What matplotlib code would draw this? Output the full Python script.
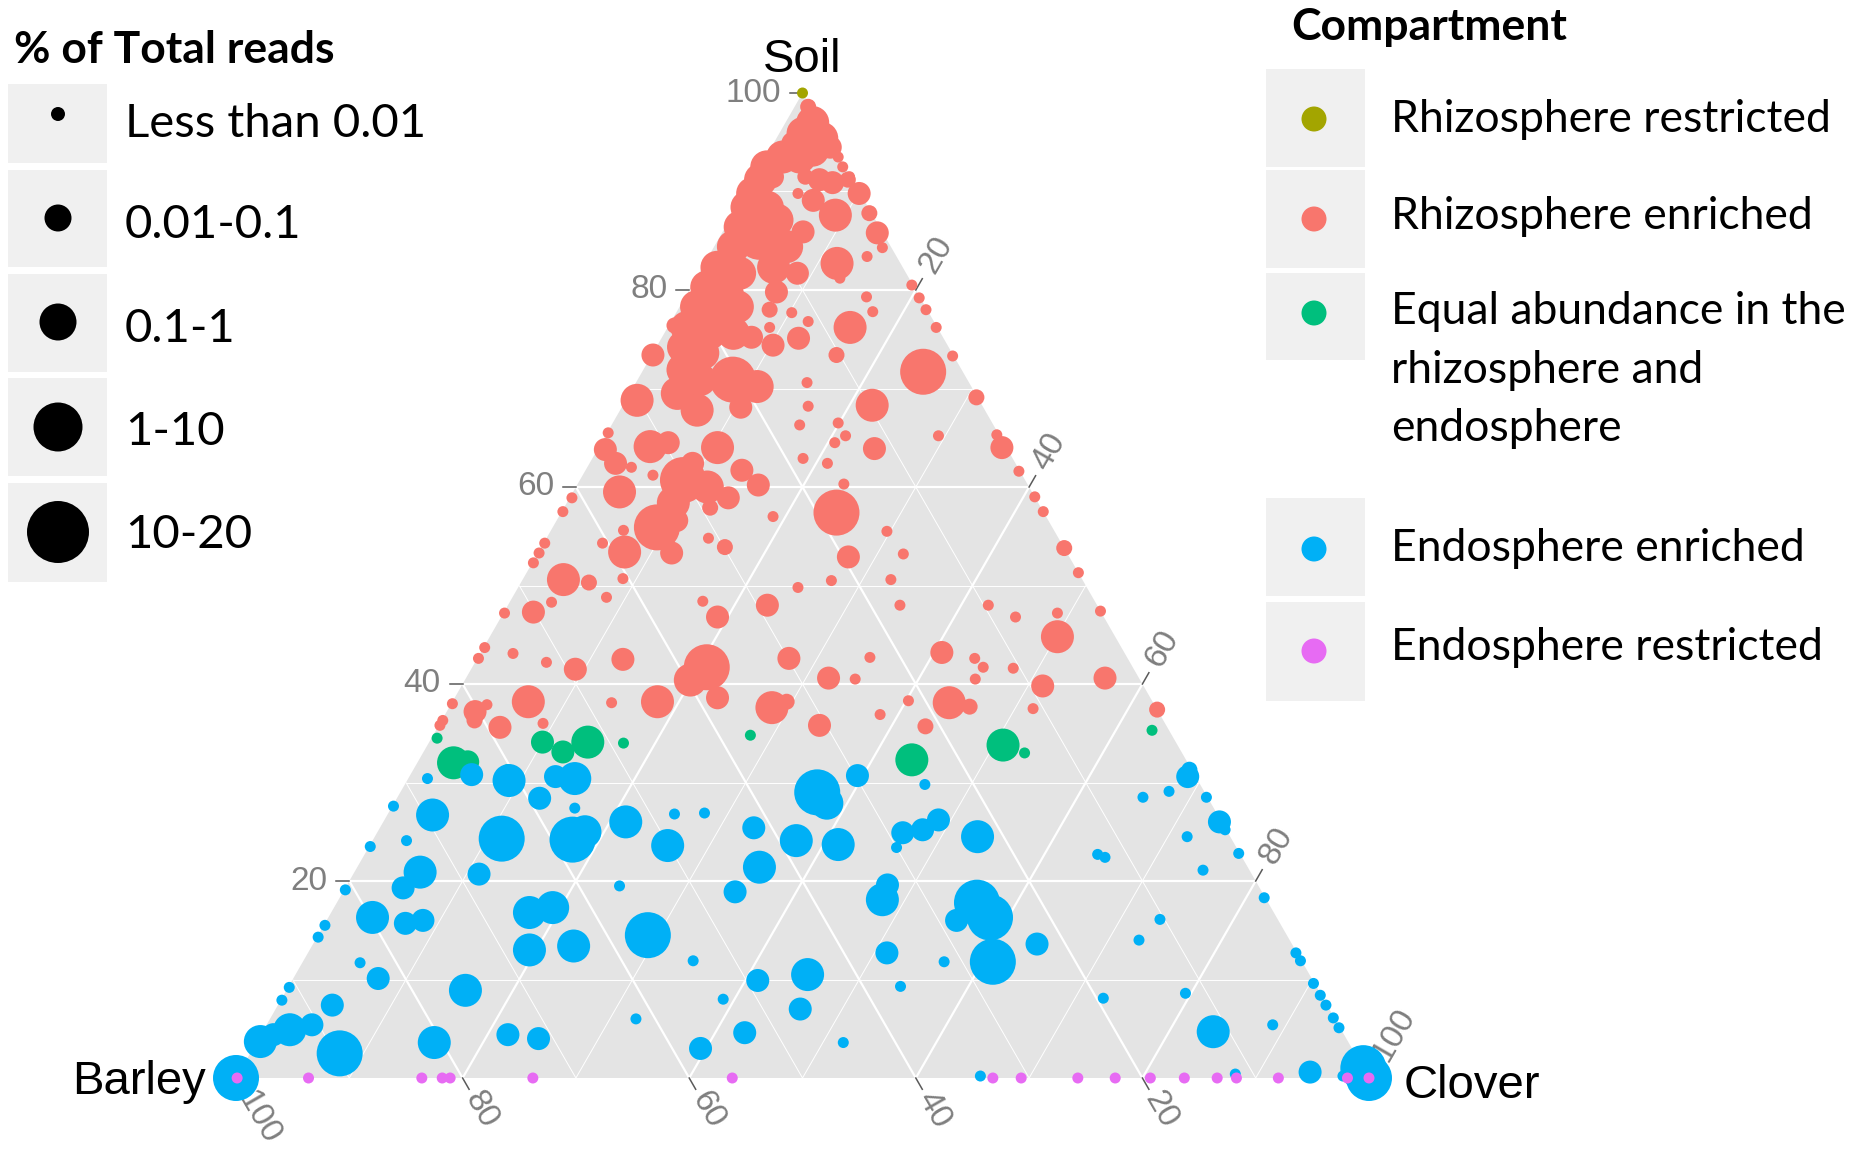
import numpy as np
import matplotlib.pyplot as plt
from matplotlib.patches import Polygon, Rectangle

#-------------------------------------------------------------
# Data (% soil, % barley, % clover) and size class per OTU
#-------------------------------------------------------------
size_labels = ["Less than 0.01", "0.01-0.1", "0.1-1", "1-10", "10-20"]
compartments = [["Rhizosphere restricted"], ["Rhizosphere enriched"],
                ["Equal abundance in the", "rhizosphere and", "endosphere"],
                ["Endosphere enriched"], ["Endosphere restricted"]]
comp_colors = ["#A3A500", "#F8766D", "#00BF7D", "#00B0F6", "#E76BF3"]

# Rhizosphere restricted
rr_soil = [100.0]
rr_barley = [0.0]
rr_clover = [0.0]
rr_size = [1]

# Rhizosphere enriched
re_soil = [98.6, 97.0, 95.9, 95.4, 94.9, 94.2, 94.5, 93.5, 93.5, 92.5, 91.2, 91.5, 89.8, 88.4, 88.4, 87.1,
           86.4, 85.4, 84.4, 84.4, 82.3, 81.7, 82.3, 81.7, 79.8, 80.3, 79.7, 78.3, 77.7, 78.3, 76.2, 75.6,
           75.6, 76.4, 74.2, 73.6, 75.2, 76.2, 73.4, 71.9, 70.9, 70.9, 70.2, 69.5, 68.8, 74.4, 75.1, 77.7,
           76.8, 78.0, 70.6, 73.4, 76.2, 79.3, 77.8, 82.7, 82.2, 81.2, 83.4, 85.9, 87.6, 89.1, 89.8, 91.5,
           91.2, 90.9, 91.2, 89.8, 93.5, 92.5, 91.5, 87.8, 85.8, 84.3, 80.5, 79.2, 78.0, 76.2, 73.3, 69.1,
           71.7, 68.3, 67.8, 68.1, 65.5, 63.8, 62.4, 62.0, 64.1, 64.5, 61.2, 59.5, 58.9, 57.5, 64.0, 61.7,
           60.2, 58.9, 57.0, 66.3, 68.2, 62.9, 60.7, 62.4, 60.0, 58.4, 55.9, 56.6, 53.3, 57.9, 53.4, 55.6,
           54.3, 54.3, 53.3, 52.3, 50.6, 50.3, 48.3, 48.8, 50.7, 54.8, 53.9, 49.8, 47.3, 47.2, 48.4, 46.8,
           48.0, 43.7, 42.6, 43.1, 42.2, 41.5, 42.5, 41.7, 40.4, 38.6, 42.6, 38.2, 38.1, 38.2, 37.2, 37.9,
           38.0, 36.3, 37.6, 38.2, 35.8, 35.6, 36.0, 36.3, 35.8, 35.7, 66.5, 64.5, 65.2, 63.9, 65.2, 64.0,
           65.3, 61.6, 62.4, 60.3, 57.4, 55.5, 59.0, 57.5, 53.8, 51.3, 47.4, 37.4, 52.9, 53.2, 50.5, 50.6,
           48.0, 48.0, 46.8, 47.2, 44.8, 43.2, 42.6, 41.7, 41.6, 40.5, 39.8, 40.6, 37.5, 42.7, 40.6, 40.5,
           38.1, 37.7, 38.3, 36.9]
re_barley = [0.2, 0.6, 2.0, 0.6, 3.4, 2.0, 0.3, 5.0, 3.5, 6.9, 8.1, 6.9, 9.5, 10.7, 8.9, 8.7,
             12.3, 11.1, 9.2, 13.9, 11.4, 9.6, 16.4, 14.7, 12.4, 18.3, 16.8, 20.2, 18.7, 16.6, 22.1, 20.4,
             18.3, 23.1, 23.4, 22.0, 16.9, 14.8, 26.5, 24.6, 23.6, 20.7, 18.9, 26.3, 30.2, 15.4, 12.8, 12.1,
             11.1, 13.9, 14.3, 10.3, 7.7, 4.7, 4.9, 5.6, 6.7, 6.1, 2.6, 7.0, 3.3, 4.5, 5.5, 4.0,
             2.9, 1.9, 0.4, 0.1, 0.1, 0.2, 0.1, 0.2, 0.5, 0.8, 0.1, 0.1, 0.1, 0.1, 0.1, 0.1,
             3.5, 9.7, 25.4, 21.4, 34.4, 35.5, 35.3, 34.1, 31.4, 29.6, 32.6, 36.4, 40.9, 42.4, 25.5, 24.5,
             23.8, 27.1, 24.1, 17.1, 15.4, 18.5, 30.2, 28.5, 28.4, 32.2, 34.9, 32.8, 34.9, 29.2, 39.0, 38.0,
             40.5, 45.6, 46.6, 47.6, 45.8, 43.7, 48.0, 42.9, 40.5, 30.9, 29.9, 25.5, 50.1, 52.7, 34.6, 34.1,
             29.1, 56.2, 57.3, 54.0, 51.5, 49.3, 44.6, 37.6, 39.7, 38.2, 29.9, 43.7, 47.8, 55.1, 60.3, 58.9,
             61.9, 63.6, 33.9, 32.3, 64.1, 58.9, 54.9, 60.8, 30.6, 21.3, 13.6, 14.9, 13.6, 11.7, 5.4, 0.4,
             0.2, 0.1, 16.6, 16.2, 18.3, 14.8, 0.0, 0.0, 0.0, 0.0, 0.0, 0.0, 19.5, 14.5, 22.2, 16.9,
             17.4, 9.6, 7.8, 3.9, 5.1, 16.1, 13.5, 13.2, 10.6, 14.5, 8.9, 3.0, 10.9, 22.7, 27.4, 25.1,
             18.0, 16.4, 21.5, 24.7]
re_clover = [1.2, 2.4, 2.1, 4.0, 1.7, 3.8, 5.2, 1.5, 3.0, 0.6, 0.7, 1.6, 0.7, 0.9, 2.7, 4.2,
             1.3, 3.5, 6.4, 1.7, 6.3, 8.7, 1.3, 3.6, 7.8, 1.4, 3.5, 1.5, 3.6, 5.1, 1.7, 4.0,
             6.1, 0.5, 2.4, 4.4, 7.9, 9.0, 0.1, 3.5, 5.5, 8.4, 10.9, 4.2, 1.0, 10.2, 12.1, 10.2,
             12.1, 8.1, 15.1, 16.3, 16.1, 16.0, 17.3, 11.7, 11.1, 12.7, 14.0, 7.1, 9.1, 6.4, 4.7, 4.5,
             5.9, 7.2, 8.4, 10.1, 6.4, 7.3, 8.4, 12.0, 13.7, 14.9, 19.4, 20.7, 21.9, 23.7, 26.6, 30.8,
             24.8, 22.0, 6.8, 10.5, 0.1, 0.7, 2.3, 3.9, 4.5, 5.9, 6.2, 4.1, 0.2, 0.1, 10.5, 13.8,
             16.0, 14.0, 18.9, 16.6, 16.4, 18.6, 9.1, 9.1, 11.6, 9.4, 9.2, 10.6, 11.8, 12.9, 7.6, 6.4,
             5.2, 0.1, 0.1, 0.1, 3.6, 6.0, 3.7, 8.3, 8.8, 14.3, 16.2, 24.7, 2.6, 0.1, 17.0, 19.1,
             22.9, 0.1, 0.1, 2.9, 6.3, 9.2, 12.9, 20.7, 19.9, 23.2, 27.5, 18.1, 14.1, 6.7, 2.5, 3.2,
             0.1, 0.1, 28.5, 29.5, 0.1, 5.5, 9.1, 2.9, 33.6, 43.0, 19.9, 20.6, 21.2, 24.4, 29.4, 35.6,
             34.5, 38.3, 21.0, 23.5, 24.3, 29.7, 41.0, 42.5, 46.2, 48.7, 52.6, 62.6, 27.6, 32.3, 27.3, 32.5,
             34.6, 42.4, 45.4, 48.9, 50.1, 40.7, 43.9, 45.1, 47.8, 45.0, 51.3, 56.4, 51.6, 34.6, 32.0, 34.4,
             43.9, 45.9, 40.2, 38.4]
re_size = [2, 4, 4, 4, 3, 4, 3, 4, 4, 4, 4, 3, 4, 4, 4, 4,
           4, 5, 4, 4, 4, 3, 4, 4, 3, 4, 4, 4, 4, 4, 4, 4,
           4, 2, 4, 4, 3, 1, 3, 4, 4, 5, 4, 4, 4, 3, 3, 1,
           1, 2, 1, 2, 4, 1, 1, 4, 1, 1, 1, 3, 4, 3, 1, 2,
           3, 3, 2, 3, 1, 1, 1, 2, 3, 1, 1, 1, 1, 1, 1, 2,
           5, 4, 4, 3, 1, 3, 3, 1, 4, 3, 1, 4, 1, 1, 4, 3,
           3, 3, 1, 1, 1, 1, 5, 3, 4, 4, 5, 3, 3, 2, 4, 1,
           1, 1, 1, 1, 4, 2, 1, 1, 1, 1, 2, 1, 3, 1, 1, 3,
           3, 1, 1, 1, 1, 3, 3, 5, 4, 3, 3, 4, 1, 4, 3, 1,
           1, 1, 4, 2, 1, 3, 1, 2, 3, 2, 1, 1, 1, 3, 1, 3,
           1, 1, 1, 1, 5, 1, 1, 1, 2, 1, 1, 2, 3, 1, 1, 1,
           1, 1, 1, 1, 4, 3, 1, 1, 1, 1, 3, 3, 1, 1, 3, 1,
           4, 2, 1, 1]

# Equal abundance in the rhizosphere and endosphere
eq_soil = [34.5, 32.0, 32.1, 34.1, 33.1, 34.1, 34.0, 31.3, 34.8, 32.3, 33.8, 33.0, 35.3]
eq_barley = [65.0, 64.8, 63.5, 55.9, 54.6, 51.9, 48.8, 60.4, 37.2, 24.2, 15.4, 13.9, 1.5]
eq_clover = [0.5, 3.2, 4.4, 10.0, 12.3, 14.0, 17.2, 8.3, 28.0, 43.5, 50.8, 53.1, 63.2]
eq_size = [1, 4, 3, 3, 3, 4, 1, 1, 1, 4, 4, 1, 1]

# Endosphere enriched
ee_soil = [30.8, 30.4, 30.2, 30.6, 30.4, 28.4, 27.4, 26.0, 27.6, 26.7, 24.1, 24.3, 24.2, 25.0, 23.5, 20.9,
           19.3, 20.7, 19.1, 19.5, 16.3, 15.7, 16.0, 15.5, 14.3, 16.8, 17.3, 13.0, 13.4, 11.7, 10.1, 8.9,
           9.2, 7.9, 7.4, 3.7, 4.4, 4.9, 5.4, 2.5, 3.6, 4.4, 4.0, 0.0, 30.7, 29.0, 27.9, 29.8,
           26.8, 26.9, 23.6, 25.4, 24.1, 23.7, 21.4, 18.9, 14.5, 11.9, 9.9, 10.5, 7.0, 8.0, 6.0, 4.6,
           3.0, 3.6, 18.1, 19.6, 12.7, 9.3, 11.8, 24.9, 25.2, 26.2, 23.4, 24.5, 17.8, 16.0, 16.3, 11.8,
           0.2, 30.6, 31.3, 28.5, 29.1, 28.5, 26.0, 25.2, 24.5, 22.7, 22.4, 22.8, 21.1, 18.3, 16.1, 14.0,
           12.7, 11.9, 9.6, 8.4, 7.4, 6.1, 5.1, 8.1, 8.6, 5.4, 4.7, 0.6, 0.4, 0.0, 0.2, 13.6,
           1.0]
ee_barley = [63.8, 67.9, 60.8, 56.5, 54.9, 59.0, 56.4, 52.6, 72.3, 69.3, 72.9, 64.4, 58.2, 56.7, 76.4, 73.3,
             75.6, 68.2, 80.8, 56.4, 79.8, 77.2, 75.5, 84.4, 85.6, 65.7, 63.4, 67.6, 63.5, 83.2, 82.4, 75.3,
             90.7, 92.0, 87.8, 96.0, 94.5, 92.8, 90.6, 89.6, 80.7, 73.8, 71.3, 100.0, 29.8, 34.2, 33.9, 24.3,
             47.9, 45.2, 50.1, 41.6, 38.5, 35.0, 43.1, 46.5, 56.4, 53.7, 49.0, 44.3, 46.7, 53.0, 61.7, 52.8,
             57.5, 44.6, 33.9, 32.7, 36.2, 36.7, 31.6, 28.7, 26.8, 24.9, 30.0, 22.3, 25.7, 28.4, 25.3, 27.3,
             34.2, 0.7, 0.2, 5.7, 3.1, 0.1, 0.2, 0.1, 3.8, 12.6, 12.1, 0.1, 4.1, 0.1, 10.4, 13.3,
             0.1, 0.1, 0.1, 0.1, 0.1, 0.1, 0.1, 19.4, 11.9, 5.8, 11.4, 4.9, 11.6, 0.0, 2.2, 22.5,
             0.0]
ee_clover = [5.4, 1.7, 9.0, 12.9, 14.7, 12.6, 16.2, 21.4, 0.1, 4.0, 3.0, 11.3, 17.6, 18.3, 0.1, 5.8,
             5.1, 11.1, 0.1, 24.1, 3.9, 7.1, 8.5, 0.1, 0.1, 17.5, 19.3, 19.4, 23.1, 5.1, 7.5, 15.8,
             0.1, 0.1, 4.8, 0.3, 1.1, 2.3, 4.0, 7.9, 15.7, 21.8, 24.7, 0.0, 39.5, 36.8, 38.2, 45.9,
             25.3, 27.9, 26.3, 33.0, 37.4, 41.3, 35.5, 34.6, 29.1, 34.4, 41.1, 45.2, 46.3, 39.0, 32.3, 42.6,
             39.5, 51.8, 48.0, 47.7, 51.1, 54.0, 56.6, 46.4, 48.0, 48.9, 46.6, 53.2, 56.5, 55.6, 58.4, 60.9,
             65.6, 68.7, 68.5, 65.8, 67.8, 71.4, 73.8, 74.7, 71.7, 64.7, 65.5, 77.1, 74.8, 81.6, 73.5, 72.7,
             87.2, 88.0, 90.3, 91.5, 92.5, 93.8, 94.8, 72.5, 79.5, 88.8, 83.9, 94.5, 88.0, 100.0, 97.6, 63.9,
             99.0]
ee_size = [3, 1, 4, 3, 4, 3, 1, 4, 1, 4, 1, 5, 5, 4, 1, 4,
           3, 3, 1, 1, 4, 3, 3, 1, 1, 4, 4, 4, 4, 1, 3, 4,
           1, 1, 3, 4, 3, 4, 3, 5, 4, 3, 3, 5, 3, 5, 4, 1,
           1, 1, 4, 3, 4, 4, 4, 3, 5, 1, 3, 4, 3, 1, 1, 3,
           3, 1, 4, 3, 3, 1, 1, 3, 3, 3, 1, 4, 5, 3, 5, 5,
           1, 3, 2, 1, 1, 1, 3, 1, 1, 1, 1, 1, 1, 1, 1, 1,
           1, 1, 1, 1, 1, 1, 1, 1, 1, 1, 4, 3, 1, 5, 1, 3,
           5]

# Endosphere restricted (no soil reads)
er_soil = [0.0] * 18
er_barley = [99.9, 93.6, 83.6, 81.8, 81.1, 73.8, 56.2, 33.2, 30.7, 25.7, 22.4, 19.3, 16.3, 13.4, 11.7, 8.0, 1.9, 0.0]
er_clover = [0.1, 6.4, 16.4, 18.2, 18.9, 26.2, 43.8, 66.8, 69.3, 74.3, 77.6, 80.7, 83.7, 86.6, 88.3, 92.0, 98.1, 100.0]
er_size = [1] * 18

tick_values = [20, 40, 60, 80, 100]

#-------------------------------------------------------------
# Helpers
#-------------------------------------------------------------
W, H = 1850, 1165
H3 = np.sqrt(3) / 2
px_size = {1: 11, 2: 16, 3: 23, 4: 33, 5: 46}   # marker diameter in pixels


def tern_xy(soil, barley, clover):
    soil = np.asarray(soil, float)
    barley = np.asarray(barley, float)
    clover = np.asarray(clover, float)
    tot = soil + barley + clover
    s = soil / tot
    c = clover / tot
    return c + s / 2, s * H3


def msize(d_px):
    return (d_px * 72 / 100) ** 2


fig = plt.figure(figsize=(W / 100, H / 100), dpi=100)
ax = fig.add_axes([236 / W, (H - 1078) / H, 1133 / W, 985 / H])
ax.set_xlim(0, 1)
ax.set_ylim(0, H3)
ax.axis('off')

# panel
ax.add_patch(Polygon([[0, 0], [1, 0], [0.5, H3]], closed=True, facecolor='#E4E4E4',
                     edgecolor='none', zorder=0))

# grid
for k in range(10, 100, 10):
    f = k / 100
    lw = 1.6 if k % 20 == 0 else 0.7
    seg = [
        tern_xy([f, f], [1 - f, 0], [0, 1 - f]),   # constant soil
        tern_xy([0, 1 - f], [1 - f, 0], [f, f]),   # constant clover
        tern_xy([0, 1 - f], [f, f], [1 - f, 0]),   # constant barley
    ]
    for xs, ys in seg:
        ax.plot(xs, ys, color='white', lw=lw, zorder=1, solid_capstyle='butt')

# ticks and labels
ppu = 1135.0
tick_len = 13 / ppu
gap = 9 / ppu
tick_kw = dict(color='#5A5A5A', lw=1.1, zorder=1, clip_on=False)
lab_kw = dict(fontsize=24, color='#7F7F7F', family='Liberation Sans')
for v in tick_values:
    f = v / 100
    # soil (left side)
    x0, y0 = tern_xy(f, 1 - f, 0)
    ax.plot([x0, x0 - tick_len], [y0, y0], **tick_kw)
    ax.text(x0 - tick_len - gap, y0, str(v), ha='right', va='center', **lab_kw)
    # barley (bottom)
    x0, y0 = tern_xy(0, f, 1 - f)
    dx, dy = 0.5, -H3
    ax.plot([x0, x0 + dx * tick_len], [y0, y0 + dy * tick_len], **tick_kw)
    ax.text(x0 + dx * (tick_len + gap * 0.6), y0 + dy * (tick_len + gap * 0.6), str(v),
            rotation=-60, rotation_mode='anchor', ha='left', va='center', **lab_kw)
    # clover (right side)
    x0, y0 = tern_xy(1 - f, 0, f)
    dx, dy = 0.5, H3
    ax.plot([x0, x0 + dx * tick_len], [y0, y0 + dy * tick_len], **tick_kw)
    ax.text(x0 + dx * (tick_len + gap), y0 + dy * (tick_len + gap), str(v),
            rotation=60, rotation_mode='anchor', ha='left', va='center', **lab_kw)

# vertex labels
vfont = dict(fontsize=34, color='black', family='Liberation Sans')
ax.annotate('Soil', xy=(0.5, H3), xytext=(0, 24), textcoords='offset points',
            ha='center', va='center', **vfont)
ax.annotate('Barley', xy=(0, 0), xytext=(-22, -3), textcoords='offset points',
            ha='right', va='center', **vfont)
ax.annotate('Clover', xy=(1, 0), xytext=(25, -6), textcoords='offset points',
            ha='left', va='center', **vfont)

# points
groups = [
    (re_soil, re_barley, re_clover, re_size, comp_colors[1], 3),
    (eq_soil, eq_barley, eq_clover, eq_size, comp_colors[2], 4),
    (ee_soil, ee_barley, ee_clover, ee_size, comp_colors[3], 5),
    (er_soil, er_barley, er_clover, er_size, comp_colors[4], 6),
    (rr_soil, rr_barley, rr_clover, rr_size, comp_colors[0], 7),
]
for s_, b_, c_, sz, col, z in groups:
    xs, ys = tern_xy(s_, b_, c_)
    ax.scatter(xs, ys, s=[msize(px_size[k]) for k in sz], c=col, edgecolors='none',
               clip_on=False, zorder=z)

#-------------------------------------------------------------
# Legends (drawn by hand, in figure pixel coordinates)
#-------------------------------------------------------------
lax = fig.add_axes([0, 0, 1, 1], facecolor='none')
lax.set_xlim(0, W)
lax.set_ylim(H, 0)
lax.axis('off')
leg_font = 'Lato'
key_bg = '#F0F0F0'

lax.text(14, 63, '% of Total reads', fontsize=32, fontweight='bold',
         family=leg_font, ha='left', va='baseline')
size_box_y = [(84, 163), (170, 267), (274, 372), (378, 476), (483, 582)]
size_dot_y = [114, 218, 322, 427, 532]
size_dot_d = [14, 27, 37, 49, 62]
size_txt_y = [137, 238, 342, 445, 548]
for (y0, y1), ty, lab in zip(size_box_y, size_txt_y, size_labels):
    lax.add_patch(Rectangle((8, y0), 99, y1 - y0, facecolor=key_bg, edgecolor='none', zorder=1))
    lax.text(125, ty, lab, fontsize=34, family=leg_font, ha='left', va='baseline')
lax.scatter([58] * 5, size_dot_y, s=[msize(d) for d in size_dot_d], c='black',
            edgecolors='none', zorder=2)

lax.text(1291, 40, 'Compartment', fontsize=32, fontweight='bold',
         family=leg_font, ha='left', va='baseline')
comp_box_y = [(69, 167), (170, 268), (273, 360), (498, 596), (602, 701)]
comp_dot_y = [119, 219, 313, 549, 651]
comp_txt_y = [[132], [229], [324, 383, 441], [561], [660]]
for (y0, y1), tys, lines in zip(comp_box_y, comp_txt_y, compartments):
    lax.add_patch(Rectangle((1266, y0), 99, y1 - y0, facecolor=key_bg, edgecolor='none', zorder=1))
    for ty, line in zip(tys, lines):
        lax.text(1391, ty, line, fontsize=32, family=leg_font, ha='left', va='baseline')
lax.scatter([1314] * 5, comp_dot_y, s=msize(25), c=comp_colors, edgecolors='none', zorder=2)

fig.savefig('out.png', dpi=100)
